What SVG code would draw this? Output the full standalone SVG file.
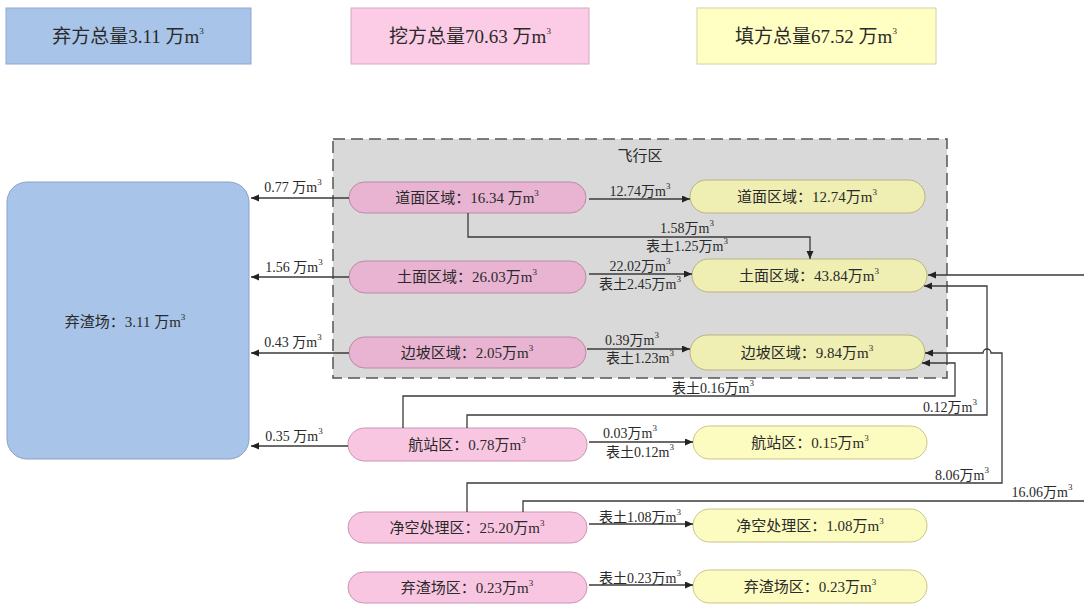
<svg xmlns="http://www.w3.org/2000/svg" width="1084" height="605" viewBox="0 0 1084 605">
<style>
text{font-family:"Liberation Serif","Noto Sans CJK SC",serif;fill:#2a2a2a;}
.big{font-size:19px;text-anchor:middle;}
.node{font-size:15px;text-anchor:middle;}
.lbl{font-size:14px;text-anchor:middle;}
.sup{font-size:9px;}
.pk{fill:#f9c6e2;stroke:#c995b3;stroke-width:1;}
.pkd{fill:#e8b4d2;stroke:#b98aa6;stroke-width:1;}
.yl{fill:#fdfcc0;stroke:#c9c48a;stroke-width:1;}
.yld{fill:#efeeb3;stroke:#b9b47c;stroke-width:1;}
.cn{fill:none;stroke:#3a3a3a;stroke-width:1.3;}
</style>
<defs>
<marker id="ah" markerUnits="userSpaceOnUse" markerWidth="9" markerHeight="8" refX="8" refY="3.5" orient="auto">
<path d="M0,0 L8,3.5 L0,7 z" fill="#222"/>
</marker>
</defs>
<rect width="1084" height="605" fill="#ffffff"/>

<g id="total-spoil"><rect x="6" y="8" width="245" height="56" fill="#a8c4e8" stroke="#8fa9cc" stroke-width="1"/><text class="big" x="128" y="43">弃方总量3.11 万m<tspan class="sup" dy="-9">3</tspan></text></g>
<g id="total-cut"><rect x="351" y="8" width="238" height="56" fill="#fccce6" stroke="#d2a8bf" stroke-width="1"/><text class="big" x="470" y="43">挖方总量70.63 万m<tspan class="sup" dy="-9">3</tspan></text></g>
<g id="total-fill"><rect x="697" y="8" width="239" height="56" fill="#ffffc4" stroke="#d2d2a2" stroke-width="1"/><text class="big" x="816" y="43">填方总量67.52 万m<tspan class="sup" dy="-9">3</tspan></text></g>

<g id="flight-area"><rect x="333" y="139" width="614" height="239" fill="#d9d9d9" stroke="#555" stroke-width="1.5" stroke-dasharray="12 6"/><text class="node" x="640" y="161">飞行区</text></g>

<g id="spoil-yard"><rect x="7" y="182" width="242" height="277" rx="20" ry="20" fill="#a8c4e8" stroke="#8aa3c6" stroke-width="1"/><text class="node" x="125" y="327">弃渣场：3.11 万m<tspan class="sup" dy="-7">3</tspan></text></g>

<g id="cut-road"><rect class="pkd" x="349" y="182" width="237" height="31" rx="15.5"/><text class="node" x="467" y="203">道面区域：16.34 万m<tspan class="sup" dy="-7">3</tspan></text></g>
<g id="cut-soil"><rect class="pkd" x="349" y="261" width="237" height="32" rx="16"/><text class="node" x="467" y="282">土面区域：26.03万m<tspan class="sup" dy="-7">3</tspan></text></g>
<g id="cut-slope"><rect class="pkd" x="349" y="337" width="237" height="31" rx="15.5"/><text class="node" x="467" y="358">边坡区域：2.05万m<tspan class="sup" dy="-7">3</tspan></text></g>
<g id="cut-terminal"><rect class="pk" x="348" y="428" width="239" height="33" rx="16.5"/><text class="node" x="467" y="450">航站区：0.78万m<tspan class="sup" dy="-7">3</tspan></text></g>
<g id="cut-clearance"><rect class="pk" x="348" y="512" width="239" height="31" rx="15.5"/><text class="node" x="467" y="533">净空处理区：25.20万m<tspan class="sup" dy="-7">3</tspan></text></g>
<g id="cut-spoilarea"><rect class="pk" x="348" y="572" width="239" height="31" rx="15.5"/><text class="node" x="467" y="593">弃渣场区：0.23万m<tspan class="sup" dy="-7">3</tspan></text></g>

<g id="fill-road"><rect class="yld" x="690" y="180" width="235" height="33" rx="16.5"/><text class="node" x="807" y="202">道面区域：12.74万m<tspan class="sup" dy="-7">3</tspan></text></g>
<g id="fill-soil"><rect class="yld" x="692" y="259" width="235" height="33" rx="16.5"/><text class="node" x="809" y="281">土面区域：43.84万m<tspan class="sup" dy="-7">3</tspan></text></g>
<g id="fill-slope"><rect class="yld" x="690" y="335" width="235" height="35" rx="17.5"/><text class="node" x="807" y="358">边坡区域：9.84万m<tspan class="sup" dy="-7">3</tspan></text></g>
<g id="fill-terminal"><rect class="yl" x="693" y="426" width="234" height="33" rx="16.5"/><text class="node" x="810" y="448">航站区：0.15万m<tspan class="sup" dy="-7">3</tspan></text></g>
<g id="fill-clearance"><rect class="yl" x="693" y="509" width="234" height="33" rx="16.5"/><text class="node" x="810" y="531">净空处理区：1.08万m<tspan class="sup" dy="-7">3</tspan></text></g>
<g id="fill-spoilarea"><rect class="yl" x="693" y="570" width="234" height="33" rx="16.5"/><text class="node" x="810" y="592">弃渣场区：0.23万m<tspan class="sup" dy="-7">3</tspan></text></g>

<g id="connectors">
<path class="cn" d="M349,198 H251" marker-end="url(#ah)"/>
<path class="cn" d="M349,277 H251" marker-end="url(#ah)"/>
<path class="cn" d="M349,353 H251" marker-end="url(#ah)"/>
<path class="cn" d="M348,446 H251" marker-end="url(#ah)"/>
<path class="cn" d="M589,199 H690" marker-end="url(#ah)"/>
<path class="cn" d="M468,213 V237 H810 V259" marker-end="url(#ah)"/>
<path class="cn" d="M589,274 H692" marker-end="url(#ah)"/>
<path class="cn" d="M587,349 H690" marker-end="url(#ah)"/>
<path class="cn" d="M589,442 H693" marker-end="url(#ah)"/>
<path class="cn" d="M589,524 H693" marker-end="url(#ah)"/>
<path class="cn" d="M589,585 H693" marker-end="url(#ah)"/>
<path class="cn" d="M403,428 V396 H955 V363 H922" marker-end="url(#ah)"/>
<path class="cn" d="M467,428 V415 H987 V286 H924" marker-end="url(#ah)"/>
<path class="cn" d="M467,512 V483 H1002 V353 H991 A4,4 0 0 0 983,353 H925" marker-end="url(#ah)"/>
<path class="cn" d="M523,512 V501 H1090 V275 H928" marker-end="url(#ah)"/>
<text class="lbl" x="293" y="192">0.77 万m<tspan class="sup" dy="-7">3</tspan></text>
<text class="lbl" x="294" y="272">1.56 万m<tspan class="sup" dy="-7">3</tspan></text>
<text class="lbl" x="293" y="347">0.43 万m<tspan class="sup" dy="-7">3</tspan></text>
<text class="lbl" x="294" y="441">0.35 万m<tspan class="sup" dy="-7">3</tspan></text>
<text class="lbl" x="640" y="196">12.74万m<tspan class="sup" dy="-7">3</tspan></text>
<text class="lbl" x="687" y="233">1.58万m<tspan class="sup" dy="-7">3</tspan></text>
<text class="lbl" x="687" y="251">表土1.25万m<tspan class="sup" dy="-7">3</tspan></text>
<text class="lbl" x="640" y="271">22.02万m<tspan class="sup" dy="-7">3</tspan></text>
<text class="lbl" x="640" y="289">表土2.45万m<tspan class="sup" dy="-7">3</tspan></text>
<text class="lbl" x="632" y="345">0.39万m<tspan class="sup" dy="-7">3</tspan></text>
<text class="lbl" x="640" y="363">表土1.23m<tspan class="sup" dy="-7">3</tspan></text>
<text class="lbl" x="713" y="393">表土0.16万m<tspan class="sup" dy="-7">3</tspan></text>
<text class="lbl" x="950" y="412">0.12万m<tspan class="sup" dy="-7">3</tspan></text>
<text class="lbl" x="630" y="438">0.03万m<tspan class="sup" dy="-7">3</tspan></text>
<text class="lbl" x="640" y="457">表土0.12m<tspan class="sup" dy="-7">3</tspan></text>
<text class="lbl" x="962" y="480">8.06万m<tspan class="sup" dy="-7">3</tspan></text>
<text class="lbl" x="1042" y="497">16.06万m<tspan class="sup" dy="-7">3</tspan></text>
<text class="lbl" x="640" y="522">表土1.08万m<tspan class="sup" dy="-7">3</tspan></text>
<text class="lbl" x="640" y="583">表土0.23万m<tspan class="sup" dy="-7">3</tspan></text>
</g>
</svg>
